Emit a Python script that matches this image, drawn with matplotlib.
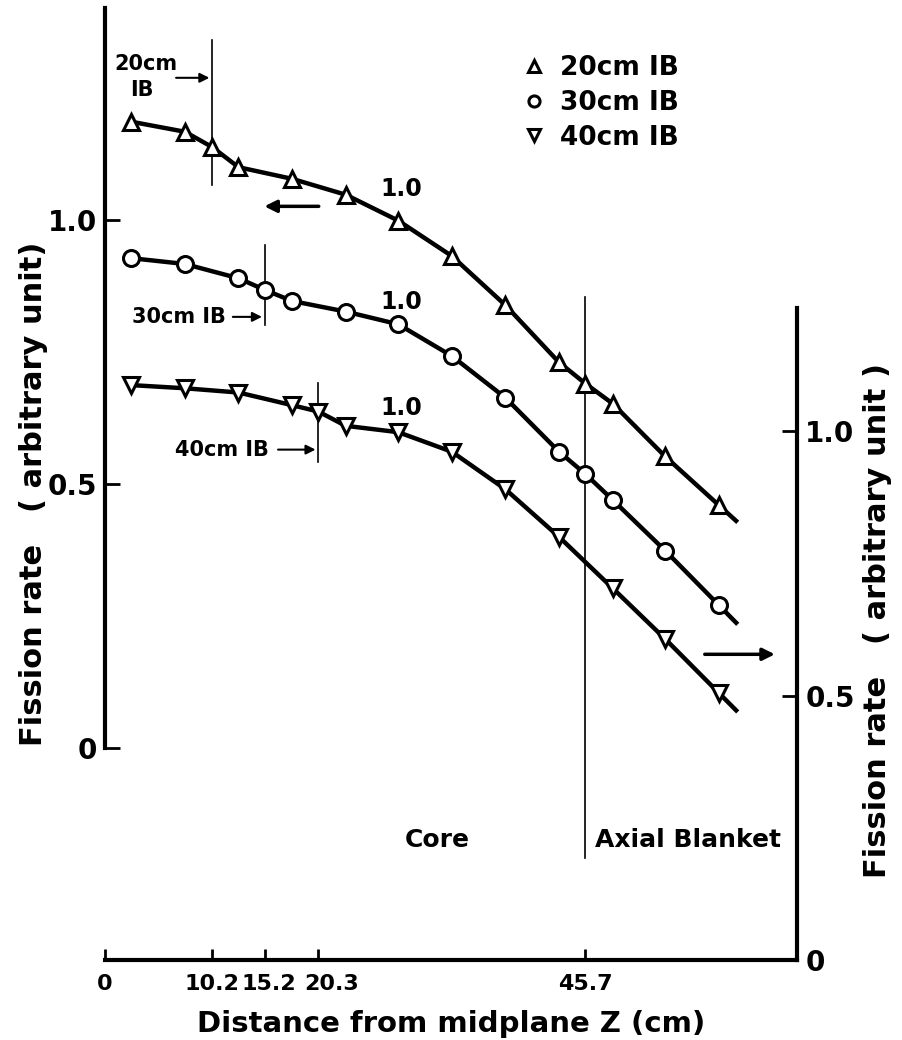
import matplotlib
matplotlib.use('Agg')
import matplotlib.pyplot as plt
import matplotlib.transforms as mtransforms
from matplotlib.lines import Line2D

# Distance from midplane Z (cm) and fission rate (left axis units)
z_20 = [2.5, 7.6, 10.2, 12.7, 17.8, 22.9, 27.9, 33.0, 38.1, 43.2, 45.7, 48.3, 53.3, 58.4]
f_20 = [1.185, 1.166, 1.137, 1.099, 1.077, 1.047, 0.998, 0.931, 0.838, 0.730, 0.690, 0.652, 0.552, 0.460]
z_30 = [2.5, 7.6, 12.7, 15.2, 17.8, 22.9, 27.9, 33.0, 38.1, 43.2, 45.7, 48.3, 53.3, 58.4]
f_30 = [0.927, 0.916, 0.889, 0.867, 0.846, 0.826, 0.802, 0.742, 0.663, 0.561, 0.519, 0.470, 0.374, 0.271]
z_40 = [2.5, 7.6, 12.7, 17.8, 20.3, 22.9, 27.9, 33.0, 38.1, 43.2, 48.3, 53.3, 58.4]
f_40 = [0.687, 0.681, 0.673, 0.649, 0.637, 0.610, 0.598, 0.561, 0.490, 0.400, 0.303, 0.207, 0.105]

series_labels = ['20cm IB', '30cm IB', '40cm IB']
x_ticks = [0, 10.2, 15.2, 20.3, 45.7]
x_ticklabels = ['0', '10.2', '15.2', '20.3', '45.7']
y_ticks = [0, 0.5, 1.0]
y_ticklabels = ['0', '0.5', '1.0']
right_offset = 0.40   # right axis zero sits this far below the left one

plt.rcParams['font.family'] = ['DejaVu Sans']
plt.rcParams['font.weight'] = 'bold'

fig = plt.figure(figsize=(9.03, 10.40), dpi=100)
ax = fig.add_axes([105/903, 80/1040, 692/903, 952/1040])
ax.set_xlim(0, 65.84)
ax.set_ylim(-right_offset, 1.40)


def tail(z, f, dz=1.8):
    # the drawn curve runs a little past the last measured point
    s = (f[-1] - f[-2]) / (z[-1] - z[-2])
    return [z[-1], z[-1] + dz], [f[-1], f[-1] + s * dz]


for z, f, m in [(z_20, f_20, '^'), (z_30, f_30, 'o'), (z_40, f_40, 'v')]:
    ax.plot(z, f, color='k', lw=3.2, solid_capstyle='butt', zorder=2)
    tz, tf = tail(z, f)
    ax.plot(tz, tf, color='k', lw=3.2, solid_capstyle='butt', zorder=2)
    ax.plot(z, f, ls='none', marker=m, ms=11.5,
            mfc='white', mec='k', mew=2.2, zorder=3)

# spines
ax.spines['top'].set_visible(False)
ax.spines['right'].set_visible(False)
ax.spines['left'].set_linewidth(3)
ax.spines['bottom'].set_linewidth(3)
ax.spines['left'].set_bounds(0, 1.40)

ax.set_xticks(x_ticks)
ax.set_xticklabels(x_ticklabels)
ax.set_yticks(y_ticks)
ax.set_yticklabels(y_ticklabels)
ax.tick_params(axis='x', direction='in', length=8, width=2, pad=10, labelsize=16)
ax.tick_params(axis='y', direction='in', length=11, width=2, pad=6, labelsize=20)

# the printed x labels are set slightly off their ticks
shifts = [0, 0, 4, 13, 0]
for lab, dx in zip(ax.get_xticklabels(), shifts):
    lab.set_transform(lab.get_transform() +
                      mtransforms.ScaledTranslation(dx / 100, 0, fig.dpi_scale_trans))

ax2 = ax.twinx()
ax2.set_ylim(0, 1.40 + right_offset)
ax2.set_position(ax.get_position())
for s in ['top', 'left', 'bottom']:
    ax2.spines[s].set_visible(False)
ax2.spines['right'].set_linewidth(3)
ax2.spines['right'].set_bounds(0, 1.233)
ax2.set_yticks(y_ticks)
ax2.set_yticklabels(y_ticklabels)
ax2.tick_params(axis='y', direction='in', length=11, width=2, pad=6, labelsize=20)

ax.set_xlabel('Distance from midplane Z (cm)', fontsize=21, fontweight='bold')
ax.xaxis.set_label_coords(0.5, -0.052)
ax.set_ylabel('Fission rate   ( arbitrary unit)', fontsize=22, fontweight='bold')
ax.yaxis.set_label_coords(-0.083, 0.49)
ax2.set_ylabel('Fission rate   ( arbitrary unit )', fontsize=22, fontweight='bold')
ax2.yaxis.set_label_coords(1.095, 0.357)

# IB boundary markers
ax.plot([10.2, 10.2], [1.065, 1.339], color='k', lw=1.2)
ax.plot([15.2, 15.2], [0.800, 0.952], color='k', lw=1.2)
ax.plot([20.3, 20.3], [0.542, 0.691], color='k', lw=1.2)
ax.plot([45.7, 45.7], [-0.207, 0.853], color='k', lw=1.2)

arrow = dict(arrowstyle='-|>', color='k', lw=1.5, mutation_scale=14)
ax.text(3.9, 1.295, '20cm', fontsize=15, ha='center', va='center')
ax.text(3.5, 1.245, 'IB', fontsize=15, ha='center', va='center')
ax.annotate('', xy=(10.2, 1.268), xytext=(6.5, 1.268), arrowprops=arrow)
ax.text(7.0, 0.816, '30cm IB', fontsize=15, ha='center', va='center')
ax.annotate('', xy=(15.2, 0.816), xytext=(11.9, 0.816), arrowprops=arrow)
ax.text(11.1, 0.565, '40cm IB', fontsize=15, ha='center', va='center')
ax.annotate('', xy=(20.3, 0.565), xytext=(16.2, 0.565), arrowprops=arrow)
ax.annotate('', xy=(14.9, 1.025), xytext=(20.6, 1.025),
            arrowprops=dict(arrowstyle='-|>', color='k', lw=2.5, mutation_scale=18))
ax.annotate('', xy=(64.0, 0.178), xytext=(56.8, 0.178),
            arrowprops=dict(arrowstyle='-|>', color='k', lw=2.5, mutation_scale=18))

for yv in [1.057, 0.844, 0.643]:
    ax.text(28.2, yv, '1.0', fontsize=17, ha='center', va='center')

ax.text(31.6, -0.173, 'Core', fontsize=18, ha='center', va='center')
ax.text(55.5, -0.173, 'Axial Blanket', fontsize=18, ha='center', va='center')

handles = [Line2D([], [], ls='none', marker=m, ms=8, mfc='white', mec='k', mew=2.2)
           for m in ['^', 'o', 'v']]
ax.legend(handles, series_labels, loc='upper left', frameon=False,
          bbox_to_anchor=(510/903, 1 - 42/1040), bbox_transform=fig.transFigure,
          fontsize=19, handlelength=0.8, handletextpad=0.6, labelspacing=0.33,
          borderpad=0)

fig.savefig('out.png', dpi=100)
